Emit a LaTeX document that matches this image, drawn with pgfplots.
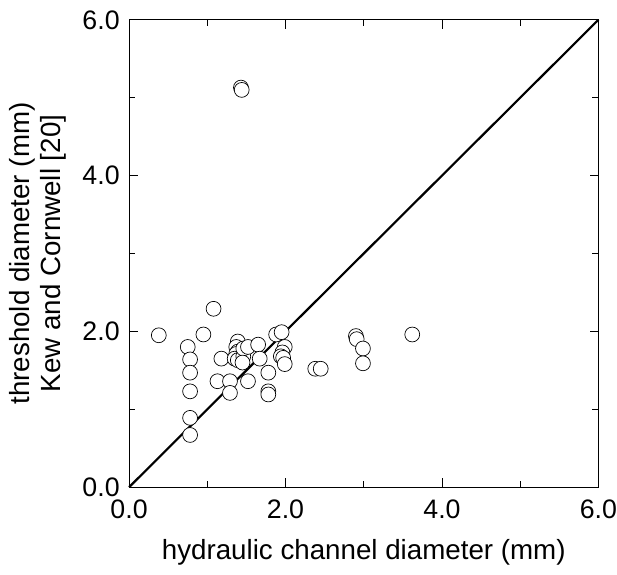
\documentclass[border=0pt]{standalone}
\usepackage{pgfplots}
\pgfplotsset{compat=1.18}
\usepackage{fontspec}
\setmainfont{Liberation Sans}
\begin{document}
\fontsize{28bp}{31bp}\selectfont
\begin{tikzpicture}
\begin{axis}[
  name=main,
  scale only axis,
  width=474bp, height=472bp,
  xmin=0, xmax=6, ymin=0, ymax=6,
  xtick={0,2,4,6}, ytick={0,2,4,6},
  minor xtick={1,3,5}, minor ytick={1,3,5},
  tick align=inside,
  major tick length=9bp, minor tick length=6bp,
  every tick/.style={black, line width=0.8pt},
  axis line style={line width=0.8pt},
  xticklabel pos=lower, yticklabel pos=left,
  xtick pos=both, ytick pos=both,
  /pgf/number format/assume math mode=true,
  /pgf/number format/.cd, fixed, fixed zerofill, precision=1,
  /pgfplots/.cd,
  tick label style={font=\fontsize{27bp}{30bp}\selectfont},
  xticklabel style={yshift=-3bp, inner xsep=0pt},
  label style={font=\fontsize{28bp}{31bp}\selectfont},
  xlabel={hydraulic channel diameter (mm)},
  ylabel={threshold diameter (mm)\\Kew and Cornwell [20]},
  ylabel style={align=center, yshift=-2bp},
  xlabel style={yshift=-2bp},
  clip=false,
]
\addplot[only marks, mark=*, mark size=7.5bp, mark options={fill=white, draw=black, line width=0.7pt}] coordinates {
(0.38,1.95) (0.95,1.96) (1.08,2.29) (0.75,1.80) (0.78,1.64) (0.78,1.47)
(0.78,1.23) (0.78,0.89) (0.78,0.67) (1.18,1.65) (1.13,1.36) (1.29,1.36)
(1.29,1.21) (1.39,1.87) (1.37,1.80) (1.39,1.74) (1.37,1.71) (1.35,1.65)
(1.39,1.63) (1.46,1.68) (1.46,1.78) (1.45,1.60) (1.52,1.80) (1.52,1.36)
(1.65,1.83) (1.67,1.65) (1.78,1.47) (1.78,1.23) (1.78,1.19) (1.88,1.96)
(1.95,1.99) (1.99,1.80) (1.96,1.73) (1.94,1.68) (1.97,1.66) (1.99,1.58)
(2.38,1.52) (2.45,1.52) (2.90,1.94) (2.91,1.90) (2.99,1.78) (2.99,1.59)
(3.62,1.96) (1.43,5.13) (1.44,5.10)
};
\addplot[black, line width=2.2pt] coordinates {(0,0) (6,6)};
\end{axis}
\path (main.north) ++(0,20bp);
\end{tikzpicture}
\end{document}
